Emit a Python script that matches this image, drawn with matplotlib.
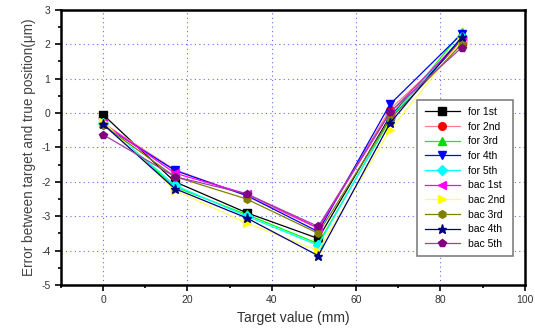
"""Positioning error vs target value, forward / backward runs (5 each)."""

import matplotlib

matplotlib.use("Agg")
import matplotlib.pyplot as plt
from matplotlib.ticker import MultipleLocator

plt.rcParams["font.family"] = ["Liberation Sans", "DejaVu Sans"]
plt.rcParams["axes.unicode_minus"] = False

target = [0, 17, 34, 51, 68, 85]

labels = ["for 1st", "for 2nd", "for 3rd", "for 4th", "for 5th",
          "bac 1st", "bac 2nd", "bac 3rd", "bac 4th", "bac 5th"]

for_1st = [-0.05, -2.0, -2.9, -3.65, -0.1, 2.1]
for_2nd = [-0.3, -1.65, -2.4, -3.35, 0.1, 2.05]
for_3rd = [-0.3, -2.15, -2.95, -3.8, -0.2, 2.35]
for_4th = [-0.35, -1.67, -2.4, -3.45, 0.25, 2.3]
for_5th = [-0.3, -2.1, -3.0, -3.85, -0.15, 2.2]
bac_1st = [-0.3, -1.75, -2.35, -3.35, 0.0, 2.15]
bac_2nd = [-0.25, -2.25, -3.2, -4.0, -0.5, 2.1]
bac_3rd = [-0.35, -1.85, -2.5, -3.5, -0.18, 2.0]
bac_4th = [-0.33, -2.2, -3.05, -4.15, -0.3, 2.2]
bac_5th = [-0.63, -1.85, -2.35, -3.3, 0.02, 1.9]

series = [for_1st, for_2nd, for_3rd, for_4th, for_5th,
          bac_1st, bac_2nd, bac_3rd, bac_4th, bac_5th]

# (line colour, marker colour, marker)
styles = [
    ("black", "black", "s"),
    ("#ff8080", "red", "o"),
    ("#00ff00", "#00dd00", "^"),
    ("blue", "blue", "v"),
    ("cyan", "cyan", "D"),
    ("magenta", "magenta", "<"),
    ("#ffff60", "yellow", ">"),
    ("olive", "olive", "h"),
    ("navy", "navy", "*"),
    ("#a040a0", "purple", "p"),
]

fig = plt.figure(figsize=(5.35, 3.29), dpi=100)
ax = fig.add_axes([0.114, 0.134, 0.867, 0.836])

for ys, lab, (lc, mc, m) in zip(series, labels, styles):
    ms = 6.5 if m == "*" else 5.5
    ax.plot(target, ys, color=lc, lw=0.9, marker=m, ms=ms,
            mfc=mc, mec=mc, label=lab)

ax.set_xlim(-10, 100)
ax.set_ylim(-5, 3)
ax.xaxis.set_major_locator(MultipleLocator(20))
ax.xaxis.set_minor_locator(MultipleLocator(10))
ax.yaxis.set_major_locator(MultipleLocator(1))
ax.yaxis.set_minor_locator(MultipleLocator(0.5))

ax.grid(True, which="major", color="blue", ls=(0, (1, 3)), lw=0.8, alpha=0.6)

for s in ax.spines.values():
    s.set_linewidth(1.8)
ax.tick_params(which="both", direction="out", top=False, right=False,
               labelsize=7.5, labelcolor="#333333", width=1.2)
ax.tick_params(which="major", length=4)
ax.tick_params(which="minor", length=2.5)

ax.set_xlabel("Target value (mm)", fontsize=10, color="#333333")
ax.set_ylabel("Error between target and true position(\u03bcm)", fontsize=9.8,
              color="#444444")

leg = ax.legend(loc="lower right", bbox_to_anchor=(0.985, 0.085),
                fontsize=7.5, handlelength=3.4, labelspacing=0.45,
                fancybox=False, framealpha=1, edgecolor="gray",
                borderpad=0.7)
leg.get_frame().set_linewidth(1.2)

fig.savefig("out.png", dpi=100)
